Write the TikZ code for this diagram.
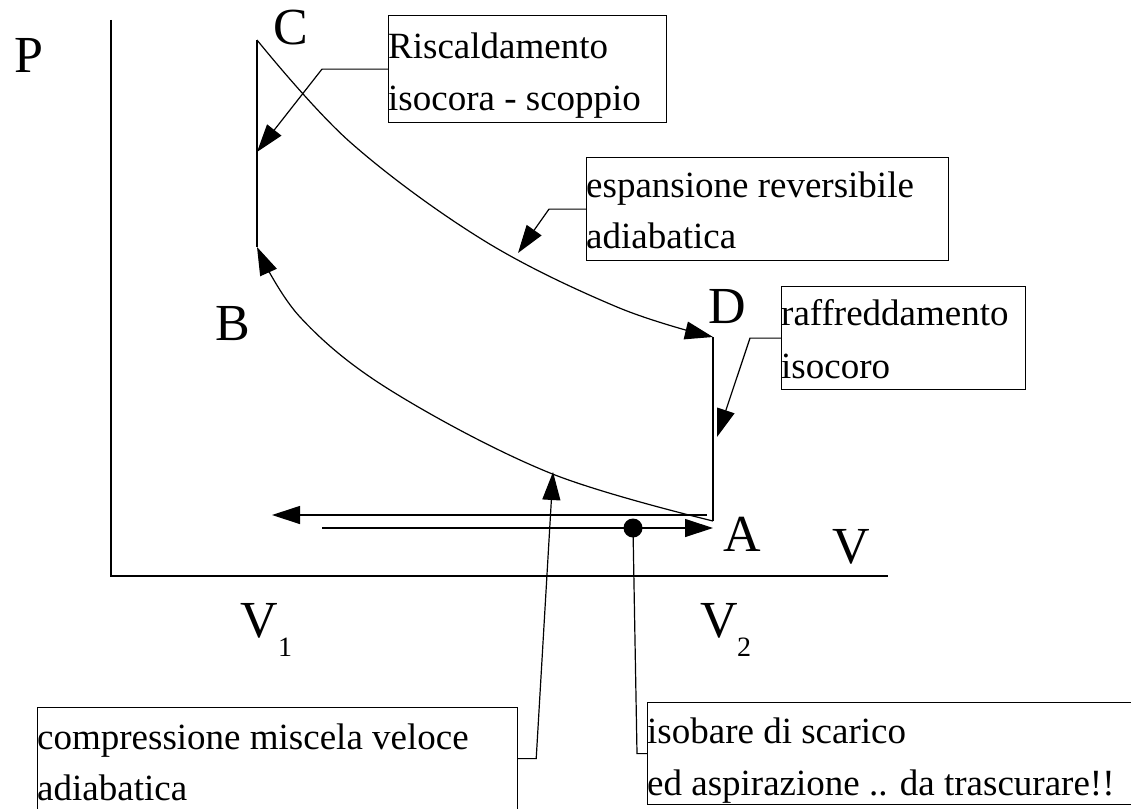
\documentclass[tikz,border=0pt]{standalone}
\usepackage{fontspec}
\setmainfont{Liberation Serif}
\usetikzlibrary{arrows.meta}
\begin{document}
\begin{tikzpicture}[x=1pt,y=-1pt,
  ln/.style={line width=1.2pt},
  tip/.style={-{Triangle[length=28pt,width=18pt]}},
  box/.style={draw,line width=1.2pt,inner sep=0pt,anchor=north west},
  big/.style={font=\fontsize{52}{52}\selectfont,inner sep=0pt,anchor=base west},
  lbl/.style={font=\fontsize{37}{37}\selectfont,inner sep=0pt,anchor=base west},
  sub/.style={font=\fontsize{28}{28}\selectfont,inner sep=0pt,anchor=base west}]
\useasboundingbox (0,0) rectangle (1131,808);
\clip (0,0) rectangle (1131,808);

% axes
\coordinate (ytop) at (111,20);
\coordinate (orig) at (111,576);
\coordinate (xend) at (888,576);
\draw[line width=1.4pt] (ytop) -- (orig) -- (xend);

% cycle points
\coordinate (C) at (257,40);
\coordinate (B) at (257,247);
\coordinate (D) at (713,337);
\coordinate (A) at (713,521);
\draw[ln] (C) -- (B);
\draw[ln] (D) -- (A);
\draw[ln,tip] plot[smooth,tension=0.6] coordinates {(C) (350,142) (483,240) (617,307) (D)};
\draw[ln,tip] plot[smooth,tension=0.6] coordinates {(A) (550,473) (390,390) (300,317) (B)};

% isobars
\coordinate (h1l) at (272,515);
\coordinate (h1r) at (707,515);
\coordinate (h2l) at (322,528);
\coordinate (h2r) at (713,528);
\draw[ln,tip] (h1r) -- (h1l);
\draw[ln,tip] (h2l) -- (h2r);
\node[circle,fill,inner sep=0pt,minimum size=19pt] (dot) at (633,528) {};

% boxes
\node[box,minimum width=278pt,minimum height=107pt] (rbox) at (388,15) {};
\node[box,minimum width=362pt,minimum height=103pt] (ebox) at (586,157) {};
\node[box,minimum width=244pt,minimum height=103pt] (fbox) at (781,286) {};
\node[box,minimum width=480pt,minimum height=102pt] (cbox) at (37,707) {};
\node[box,minimum width=500pt,minimum height=102pt] (ibox) at (647,702) {};

% leaders
\coordinate (rtip) at (257,152);
\coordinate (etip) at (518,253);
\coordinate (ftip) at (717,437);
\coordinate (ctip) at (553,472);
\draw[ln,tip] (rbox.west) -- ++(-66,0) -- (rtip);
\draw[ln,tip] (ebox.west) -- ++(-37,0) -- (etip);
\draw[ln,tip] (fbox.west) -- ++(-31,0) -- (ftip);
\draw[ln,tip] (cbox.east) -- ++(18,0) -- (ctip);
\draw[ln] (dot.center) -- ([xshift=-10pt]ibox.west) -- (ibox.west);

% labels
\node[big] (Pl) at (14,72) {P};
\node[big] (Cl) at (273,45) {C};
\node[big] (Bl) at (215,340) {B};
\node[big] (Dl) at (708,323) {D};
\node[big] (Al) at (723,551) {A};
\node[big] (Vl) at (832,563) {V};
\node[big] (V1) at (240,637) {V};
\node[sub] (V1s) at (278,656) {1};
\node[big] (V2) at (700,637) {V};
\node[sub] (V2s) at (737,656) {2};

% box texts
\node[lbl] (r1) at (388,59) {Riscaldamento};
\node[lbl] (r2) at (388,110) {isocora - scoppio};
\node[lbl] (e1) at (586,197) {espansione reversibile};
\node[lbl] (e2) at (586,248) {adiabatica};
\node[lbl] (f1) at (781,325) {raffreddamento};
\node[lbl] (f2) at (781,378) {isocoro};
\node[lbl] (c1) at (37,749) {compressione miscela veloce};
\node[lbl] (c2) at (37,800) {adiabatica};
\node[lbl] (i1) at (647,743) {isobare di scarico};
\node[lbl] (i2) at (647,795) {ed aspirazione .. da trascurare!!};
\end{tikzpicture}
\end{document}
